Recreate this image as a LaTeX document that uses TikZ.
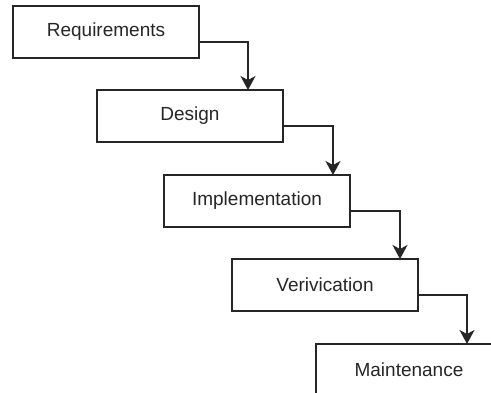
\documentclass[tikz,border=0pt]{standalone}
\usepackage{fontspec}
\setmainfont{Liberation Sans}
\usetikzlibrary{positioning,arrows.meta}

\begin{document}
\begin{tikzpicture}[auto,line width=1.6pt,
		phase/.style={draw=black!85,minimum width=186pt,minimum height=52pt,inner sep=0pt,outer sep=0pt,
			font=\fontsize{19}{21}\selectfont,text=black!85},
		flow/.style={draw=black!85,-{Stealth[length=14pt,width=15pt,inset=4pt]}}]
		\useasboundingbox (0,0) rectangle (491pt,-392pt);
		
		\node[phase] (req) at (13pt,-6pt) [anchor=north west] {Requirements};
		\node[phase] (des) [below right = 32pt and -102pt of req] {Design};
		\node[phase] (imp) [below right = 33pt and -119pt of des] {Implementation};
		\node[phase] (ver) [below right = 32pt and -118pt of imp] {Verivication};
		\node[phase] (mai) [below right = 33pt and -102pt of ver] {Maintenance};
		
		\draw[flow] ([yshift=-10pt]req.east) -| ([xshift=58pt]des.north);
		\draw[flow] ([yshift=-10pt]des.east) -| ([xshift=76pt]imp.north);
		\draw[flow] ([yshift=-10pt]imp.east) -| ([xshift=75pt]ver.north);
		\draw[flow] ([yshift=-10pt]ver.east) -| ([xshift=58pt]mai.north);
	\end{tikzpicture}
\end{document}
